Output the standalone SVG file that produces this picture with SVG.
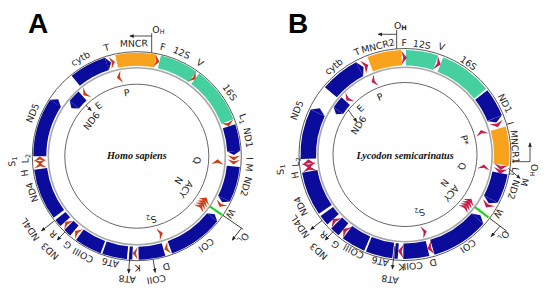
<svg xmlns="http://www.w3.org/2000/svg" width="550" height="291" viewBox="0 0 550 291">
<style>
.r1{fill:none;stroke:#5a5a5a;stroke-width:1}
.r2{fill:none;stroke:#a8a8a8;stroke-width:1.6}
.r3{fill:none;stroke:#555;stroke-width:0.9}
.ao{fill:none;stroke-width:13}
.ai{fill:none;stroke-width:12}
.bo{fill:none;stroke-width:15.5}
.bi{fill:none;stroke-width:11.5}
.bl{stroke:#0c0c9c}
.or{stroke:#f9a21d}
.te{stroke:#46cf9f}
.tb{fill:#0c0c9c}
.ra{fill:#cf3b14}
.rb{fill:#c61b4b}
.t{font-family:"DejaVu Sans","Liberation Sans",sans-serif;font-size:9.3px;fill:#1e1e1e;text-anchor:middle}
.sub{font-size:6.5px}
.sp{font-family:"Liberation Serif",serif;font-style:italic;font-weight:bold;font-size:10.2px;fill:#111;text-anchor:middle}
.pl{font-family:"Liberation Sans",sans-serif;font-weight:bold;font-size:28px;fill:#000}
.c{fill:none;stroke:#222;stroke-width:0.8}
.ol{fill:none;stroke:#22d022;stroke-width:2.2}
</style>
<defs>
<path id="cw" d="M-2.5,-6.2L2.5,0L-2.5,6.2L-0.8,0Z"/>
<path id="ccw" d="M2.5,-6.2L-2.5,0L2.5,6.2L0.8,0Z"/>
<path id="cwB" d="M-2.8,-7L2.8,0L-2.8,7L-0.9,0Z"/>
<path id="ccwB" d="M2.8,-7L-2.8,0L2.8,7L0.9,0Z"/>
<marker id="ah" viewBox="0 0 6 6" refX="5" refY="3" markerWidth="4.5" markerHeight="4.5" markerUnits="userSpaceOnUse" orient="auto"><path d="M0,0.5L6,3L0,5.5Z" fill="#222"/></marker>
</defs>

<text class="pl" x="28" y="33">A</text>
<text class="pl" x="288" y="33">B</text>

<!-- ================= PANEL A ================= -->
<g id="panelA" transform="translate(136.8 156.2)">
<g id="A-rings">
<circle class="r1" r="104.5"/>
<circle class="r2" r="88.5"/>
<circle class="r3" r="72"/>
</g>
<text id="A-species" class="sp" y="2.3">Homo sapiens</text>

<g id="A-MNCR"><circle class="ao or" r="97" stroke-dasharray="38.94 999" transform="rotate(258)"/><text class="t" transform="rotate(358.5)" y="-109.5">MNCR</text></g>
<g id="A-12S"><circle class="ao te" r="97" stroke-dasharray="36.40 999" transform="rotate(-76.5)"/><text class="t" transform="rotate(23.4)" y="-109.5">12S</text></g>
<g id="A-16S"><circle class="ao te" r="97" stroke-dasharray="54.18 999" transform="rotate(-53)"/><text class="t" transform="rotate(55.5)" y="-109.5">16S</text></g>
<g id="A-ND1"><circle class="ao bl" r="97" stroke-dasharray="25.39 999" transform="rotate(-18)"/><path class="tb" transform="rotate(87)" d="M0,-103.5L4,-97L0,-90.5Z"/><text class="t" transform="rotate(80.5)" y="-109.5">ND1</text></g>
<g id="A-ND2"><circle class="ao bl" r="97" stroke-dasharray="33.86 999" transform="rotate(6)"/><path class="tb" transform="rotate(116)" d="M0,-103.5L4,-97L0,-90.5Z"/><text class="t" transform="rotate(105.5)" y="-110">ND2</text></g>
<g id="A-COI"><circle class="ao bl" r="97" stroke-dasharray="52.48 999" transform="rotate(39)"/><path class="tb" transform="rotate(129)" d="M0,-103.5L-4,-97L0,-90.5Z"/><text class="t" transform="rotate(142)" y="-109.5">COI</text></g>
<g id="A-COII"><circle class="ao bl" r="97" stroke-dasharray="25.39 999" transform="rotate(74)"/><text class="t" transform="rotate(171)" y="-121.5">COII</text></g>
<g id="A-ATP8"><circle class="ao bl" r="97" stroke-dasharray="3.39 999" transform="rotate(92.5)"/><text class="t" transform="rotate(184.5)" y="-120">AT8</text></g>
<g id="A-ATP6"><circle class="ao bl" r="97" stroke-dasharray="23.70 999" transform="rotate(95.5)"/><text class="t" transform="rotate(194)" y="-106.5">AT6</text></g>
<g id="A-COIII"><circle class="ao bl" r="97" stroke-dasharray="26.24 999" transform="rotate(110.5)"/><text class="t" transform="rotate(208.5)" y="-109.5">COIII</text></g>
<g id="A-ND3"><circle class="ao bl" r="97" stroke-dasharray="7.62 999" transform="rotate(130)"/><text class="t" transform="rotate(222.5)" y="-125.5">ND3</text></g>
<g id="A-ND4L"><circle class="ao bl" r="97" stroke-dasharray="7.62 999" transform="rotate(137.5)"/><text class="t" transform="rotate(235.5)" y="-126">ND4L</text></g>
<g id="A-ND4"><circle class="ao bl" r="97" stroke-dasharray="49.10 999" transform="rotate(143.5)"/><text class="t" transform="rotate(251)" y="-107.5">ND4</text></g>
<g id="A-ND5"><circle class="ao bl" r="97" stroke-dasharray="55.87 999" transform="rotate(180)"/><path class="tb" transform="rotate(303)" d="M0,-103.5L5,-97L0,-90.5Z"/><text class="t" transform="rotate(292.5)" y="-109.5">ND5</text></g>
<g id="A-cytb"><circle class="ao bl" r="97" stroke-dasharray="35.55 999" transform="rotate(231)"/><path class="tb" transform="rotate(342)" d="M0,-103.5L4.5,-97L0,-90.5Z"/><text class="t" transform="rotate(330)" y="-109.5">cytb</text></g>
<g id="A-ND6"><circle class="ai bl" r="81" stroke-dasharray="12.02 999" transform="rotate(219.5)"/><path class="tb" transform="rotate(309.5)" d="M0,-87L-4.5,-81L0,-75Z"/><text class="t" transform="rotate(308)" y="-54">ND6</text></g>

<g id="A-T"><use href="#cw" class="ra" transform="rotate(345.5) translate(0 -97)"/><text class="t" transform="rotate(344.5)" y="-109.5">T</text></g>
<g id="A-F"><use href="#cw" class="ra" transform="rotate(12) translate(0 -97)"/><text class="t" transform="rotate(13.4)" y="-109">F</text></g>
<g id="A-V"><use href="#cw" class="ra" transform="rotate(36) translate(0 -97)"/><text class="t" transform="rotate(34)" y="-109.5">V</text></g>
<g id="A-L1"><use href="#cw" class="ra" transform="rotate(70.5) translate(0 -97)"/><text class="t" transform="rotate(70.5)" y="-110">L<tspan class="sub" dy="2">1</tspan></text></g>
<g id="A-I"><use href="#cw" class="ra" transform="rotate(91) translate(0 -97)"/><text class="t" transform="rotate(91.2)" y="-109.5">I</text></g>
<g id="A-M"><use href="#cw" class="ra" transform="rotate(93.5) translate(0 -97)"/><text class="t" transform="rotate(95.8)" y="-109.5">M</text></g>
<g id="A-W"><use href="#cw" class="ra" transform="rotate(120) translate(0 -97)"/><text class="t" transform="rotate(121.5)" y="-106.5">W</text></g>
<g id="A-D"><use href="#cw" class="ra" transform="rotate(162) translate(0 -97)"/><text class="t" transform="rotate(165)" y="-111">D</text></g>
<g id="A-K"><use href="#cw" class="ra" transform="rotate(181) translate(0 -97)"/><text class="t" transform="rotate(179.5)" y="-108.5">K</text></g>
<g id="A-G"><use href="#cw" class="ra" transform="rotate(218) translate(0 -97)"/><text class="t" transform="rotate(218)" y="-109.5">G</text></g>
<g id="A-R"><use href="#cw" class="ra" transform="rotate(226) translate(0 -97)"/><text class="t" transform="rotate(227)" y="-111">R</text></g>
<g id="A-H"><use href="#cw" class="ra" transform="rotate(264.5) translate(0 -97)"/><text class="t" transform="rotate(261.5)" y="-110">H</text></g>
<g id="A-S1"><use href="#ccw" class="ra" transform="rotate(266.5) translate(0 -97)"/><text class="t" transform="rotate(267.5)" y="-122">S<tspan class="sub" dy="2">1</tspan></text></g>
<g id="A-L2"><use href="#cw" class="ra" transform="rotate(268.5) translate(0 -97)"/><text class="t" transform="rotate(268.8)" y="-108.5">L<tspan class="sub" dy="2">2</tspan></text></g>
<g id="A-E"><use href="#ccw" class="ra" transform="rotate(320.5) translate(0 -81)"/><text class="t" transform="rotate(323)" y="-60">E</text></g>
<g id="A-P"><use href="#ccw" class="ra" transform="rotate(347.5) translate(0 -81)"/><text class="t" transform="rotate(351)" y="-61">P</text></g>
<g id="A-Q"><use href="#ccw" class="ra" transform="rotate(94) translate(0 -81)"/><text class="t" transform="rotate(94)" y="-57">Q</text></g>
<g id="A-ANCY"><use href="#ccw" class="ra" transform="rotate(122.5) translate(0 -81)"/><use href="#ccw" class="ra" transform="rotate(124.5) translate(0 -81)"/><use href="#ccw" class="ra" transform="rotate(126.5) translate(0 -81)"/><use href="#ccw" class="ra" transform="rotate(128.5) translate(0 -81)"/><text class="t" transform="rotate(124)" y="-56">ACY</text><text class="t" transform="rotate(120)" y="-45">N</text></g>
<g id="A-S2"><use href="#ccw" class="ra" transform="rotate(163) translate(0 -81)"/><text class="t" transform="rotate(167)" y="-62">S<tspan class="sub" dy="2">2</tspan></text></g>

<g id="A-connectors">
<path class="c" d="M14.9,-103.4V-123M14.9,-120.2H-6.8" marker-end="url(#ah)"/>
<text class="t" x="15.5" y="-123.5" style="text-anchor:start">O<tspan class="sub" dy="1.5">H</tspan></text>
<g transform="rotate(124.5)">
<path class="ol" d="M0,-88.5V-103.5"/>
<path class="c" d="M0,-104.5V-129"/>
<path class="c" d="M0,-127L15,-126.2" marker-end="url(#ah)"/>
</g>
<text class="t" transform="rotate(127.5)" y="-131.5">O<tspan class="sub" dy="1.5">L</tspan></text>
<path class="c" transform="rotate(231.9)" d="M0,-105.5V-121" marker-end="url(#ah)"/>
<path class="c" transform="rotate(223.5)" d="M0,-104.5V-115.5" marker-end="url(#ah)"/>
<path class="c" transform="rotate(171)" d="M0,-105V-117.5" marker-end="url(#ah)"/>
<path class="c" transform="rotate(184)" d="M0,-97V-117" marker-end="url(#ah)"/>
<path class="c" transform="rotate(315)" d="M0,-72V-64.5" marker-end="url(#ah)"/>
</g>
</g>

<!-- ================= PANEL B ================= -->
<g id="panelB" transform="translate(405 154.5)">
<g id="B-rings">
<circle class="r1" r="106"/>
<circle class="r2" r="87.2"/>
<circle class="r3" r="72"/>
</g>
<text id="B-species" class="sp" y="4">Lycodon semicarinatus</text>

<g id="B-MNCR2"><circle class="bo or" r="96.75" stroke-dasharray="32.08 999" transform="rotate(249)"/><text class="t" transform="rotate(346)" y="-108.5">MNCR2</text></g>
<g id="B-12S"><circle class="bo te" r="96.75" stroke-dasharray="30.39 999" transform="rotate(-89.5)"/><text class="t" transform="rotate(8.7)" y="-108">12S</text></g>
<g id="B-16S"><circle class="bo te" r="96.75" stroke-dasharray="49.81 999" transform="rotate(-68.5)"/><text class="t" transform="rotate(34.8)" y="-108">16S</text></g>
<g id="B-ND1"><circle class="bo bl" r="96.75" stroke-dasharray="27.02 999" transform="rotate(-38)"/><path class="tb" transform="rotate(68)" d="M0,-104.5L4.5,-96.75L0,-89Z"/><text class="t" transform="rotate(62.9)" y="-109">ND1</text></g>
<g id="B-MNCR1"><circle class="bo or" r="96.75" stroke-dasharray="36.31 999" transform="rotate(-15.5)"/><text class="t" transform="rotate(86)" y="-107">MNCR1</text></g>
<g id="B-ND2"><circle class="bo bl" r="96.75" stroke-dasharray="27.86 999" transform="rotate(11)"/><path class="tb" transform="rotate(117.5)" d="M0,-104.5L4.5,-96.75L0,-89Z"/><text class="t" transform="rotate(107.9)" y="-111">ND2</text></g>
<g id="B-COI"><circle class="bo bl" r="96.75" stroke-dasharray="54.04 999" transform="rotate(41.5)"/><path class="tb" transform="rotate(131.5)" d="M0,-104.5L-4.5,-96.75L0,-89Z"/><text class="t" transform="rotate(145.5)" y="-108">COI</text></g>
<g id="B-COII"><circle class="bo bl" r="96.75" stroke-dasharray="24.48 999" transform="rotate(76.5)"/><text class="t" transform="rotate(175.8)" y="-108.5">COII</text></g>
<g id="B-ATP8"><circle class="bo bl" r="96.75" stroke-dasharray="3.38 999" transform="rotate(94)"/><text class="t" transform="rotate(186.8)" y="-122.5">AT8</text></g>
<g id="B-ATP6"><circle class="bo bl" r="96.75" stroke-dasharray="25.33 999" transform="rotate(97)"/><text class="t" transform="rotate(193.1)" y="-106.5">AT6</text></g>
<g id="B-COIII"><circle class="bo bl" r="96.75" stroke-dasharray="22.80 999" transform="rotate(113)"/><text class="t" transform="rotate(208)" y="-106.5">COIII</text></g>
<g id="B-ND3"><circle class="bo bl" r="96.75" stroke-dasharray="9.29 999" transform="rotate(129.5)"/><text class="t" transform="rotate(221.7)" y="-126.5">ND3</text></g>
<g id="B-ND4L"><circle class="bo bl" r="96.75" stroke-dasharray="10.13 999" transform="rotate(138)"/><text class="t" transform="rotate(235.5)" y="-124">ND4L</text></g>
<g id="B-ND4"><circle class="bo bl" r="96.75" stroke-dasharray="41.37 999" transform="rotate(145.5)"/><text class="t" transform="rotate(243.6)" y="-113">ND4</text></g>
<g id="B-ND5"><circle class="bo bl" r="96.75" stroke-dasharray="47.28 999" transform="rotate(177.5)"/><path class="tb" transform="rotate(295.5)" d="M0,-104.5L5,-96.75L0,-89Z"/><text class="t" transform="rotate(292.3)" y="-113.5">ND5</text></g>
<g id="B-cytb"><circle class="bo bl" r="96.75" stroke-dasharray="37.15 999" transform="rotate(220)"/><path class="tb" transform="rotate(332)" d="M0,-104.5L4.5,-96.75L0,-89Z"/><text class="t" transform="rotate(321)" y="-110">cytb</text></g>
<g id="B-ND6"><circle class="bi bl" r="79.75" stroke-dasharray="11.83 999" transform="rotate(213.5)"/><path class="tb" transform="rotate(303.5)" d="M0,-85.5L-4.5,-79.75L0,-74Z"/><text class="t" transform="rotate(302.3)" y="-51.5">ND6</text></g>

<g id="B-T"><use href="#cwB" class="rb" transform="rotate(336) translate(0 -96.75)"/><text class="t" transform="rotate(335)" y="-110">T</text></g>
<g id="B-F"><use href="#cwB" class="rb" transform="rotate(359.5) translate(0 -96.75)"/><text class="t" transform="rotate(359.6)" y="-108.5">F</text></g>
<g id="B-V"><use href="#cwB" class="rb" transform="rotate(20) translate(0 -96.75)"/><text class="t" transform="rotate(18.8)" y="-110.5">V</text></g>
<g id="B-I"><use href="#cwB" class="rb" transform="rotate(72) translate(0 -96.75)"/><text class="t" transform="rotate(73.5)" y="-106.5">I</text></g>
<g id="B-L1"><use href="#cwB" class="rb" transform="rotate(97.5) translate(0 -96.75)"/><text class="t" transform="rotate(99)" y="-108">L<tspan class="sub" dy="2">1</tspan></text></g>
<g id="B-M"><use href="#cwB" class="rb" transform="rotate(99.8) translate(0 -96.75)"/><text class="t" transform="rotate(103)" y="-119.5">M</text></g>
<g id="B-W"><use href="#cwB" class="rb" transform="rotate(121.5) translate(0 -96.75)"/><text class="t" transform="rotate(122.2)" y="-107">W</text></g>
<g id="B-D"><use href="#cwB" class="rb" transform="rotate(165) translate(0 -96.75)"/><text class="t" transform="rotate(165.4)" y="-108.5">D</text></g>
<g id="B-K"><use href="#cwB" class="rb" transform="rotate(182.5) translate(0 -96.75)"/><text class="t" transform="rotate(181.7)" y="-109.5">K</text></g>
<g id="B-G"><use href="#cwB" class="rb" transform="rotate(218) translate(0 -96.75)"/><text class="t" transform="rotate(217.7)" y="-110.5">G</text></g>
<g id="B-R"><use href="#cwB" class="rb" transform="rotate(226.5) translate(0 -96.75)"/><text class="t" transform="rotate(225.4)" y="-111">R</text></g>
<g id="B-H"><use href="#cwB" class="rb" transform="rotate(261.5) translate(0 -96.75)"/><text class="t" transform="rotate(259.4)" y="-108.5">H</text></g>
<g id="B-S1"><use href="#ccwB" class="rb" transform="rotate(263.5) translate(0 -96.75)"/><text class="t" transform="rotate(263)" y="-122.5">S<tspan class="sub" dy="2">1</tspan></text></g>
<g id="B-L2"><use href="#cwB" class="rb" transform="rotate(265.5) translate(0 -96.75)"/><text class="t" transform="rotate(266)" y="-106.5">L<tspan class="sub" dy="2">2</tspan></text></g>
<g id="B-E"><use href="#ccw" class="rb" transform="rotate(314.5) translate(0 -79.75)"/><text class="t" transform="rotate(316)" y="-61">E</text></g>
<g id="B-P"><use href="#ccw" class="rb" transform="rotate(337) translate(0 -79.75)"/><text class="t" transform="rotate(336.6)" y="-59.5">P</text></g>
<g id="B-Pstar"><use href="#ccw" class="rb" transform="rotate(74) translate(0 -79.75)"/><text class="t" transform="rotate(76.4)" y="-58">P*</text></g>
<g id="B-Q"><use href="#ccw" class="rb" transform="rotate(99) translate(0 -79.75)"/><text class="t" transform="rotate(101.5)" y="-55">Q</text></g>
<g id="B-ANCY"><use href="#ccw" class="rb" transform="rotate(125.5) translate(0 -79.75)"/><use href="#ccw" class="rb" transform="rotate(127.5) translate(0 -79.75)"/><use href="#ccw" class="rb" transform="rotate(129.5) translate(0 -79.75)"/><use href="#ccw" class="rb" transform="rotate(131.5) translate(0 -79.75)"/><text class="t" transform="rotate(130)" y="-57">ACY</text><text class="t" transform="rotate(125.8)" y="-45.5">N</text></g>
<g id="B-S2"><use href="#ccw" class="rb" transform="rotate(166) translate(0 -79.75)"/><text class="t" transform="rotate(165.7)" y="-57">S<tspan class="sub" dy="2">2</tspan></text></g>

<g id="B-connectors">
<path class="c" d="M-8.3,-105.7V-124.5M-8.3,-120.2H-26.7" marker-end="url(#ah)"/>
<text class="t" x="-11" y="-126" style="text-anchor:start">O<tspan class="sub" dy="1.5" font-weight="bold">H</tspan></text>
<path class="c" d="M107,7.2H125V-11.5" marker-end="url(#ah)"/>
<text class="t" transform="translate(126 9.5) rotate(90)" style="text-anchor:start">O<tspan class="sub" dy="1.5">H</tspan></text>
<g transform="rotate(127)">
<path class="ol" d="M0,-87.2V-104.5"/>
<path class="c" d="M0,-106V-127"/>
<path class="c" d="M0,-119L13.5,-118.2" marker-end="url(#ah)"/>
</g>
<text class="t" transform="rotate(129.5)" y="-125">O<tspan class="sub" dy="1.5">L</tspan></text>
<path class="c" transform="rotate(231.5)" d="M0,-106V-120.5" marker-end="url(#ah)"/>
<path class="c" transform="rotate(223)" d="M0,-105V-117" marker-end="url(#ah)"/>
<path class="c" transform="rotate(186.3)" d="M0,-92V-115" marker-end="url(#ah)"/>
<path class="c" d="M103.3,13.8L115,23.8" marker-end="url(#ah)"/>
<path class="c" d="M-56.7,-44.5L-48.3,-32.8" marker-end="url(#ah)"/>
</g>
</g>
</svg>
